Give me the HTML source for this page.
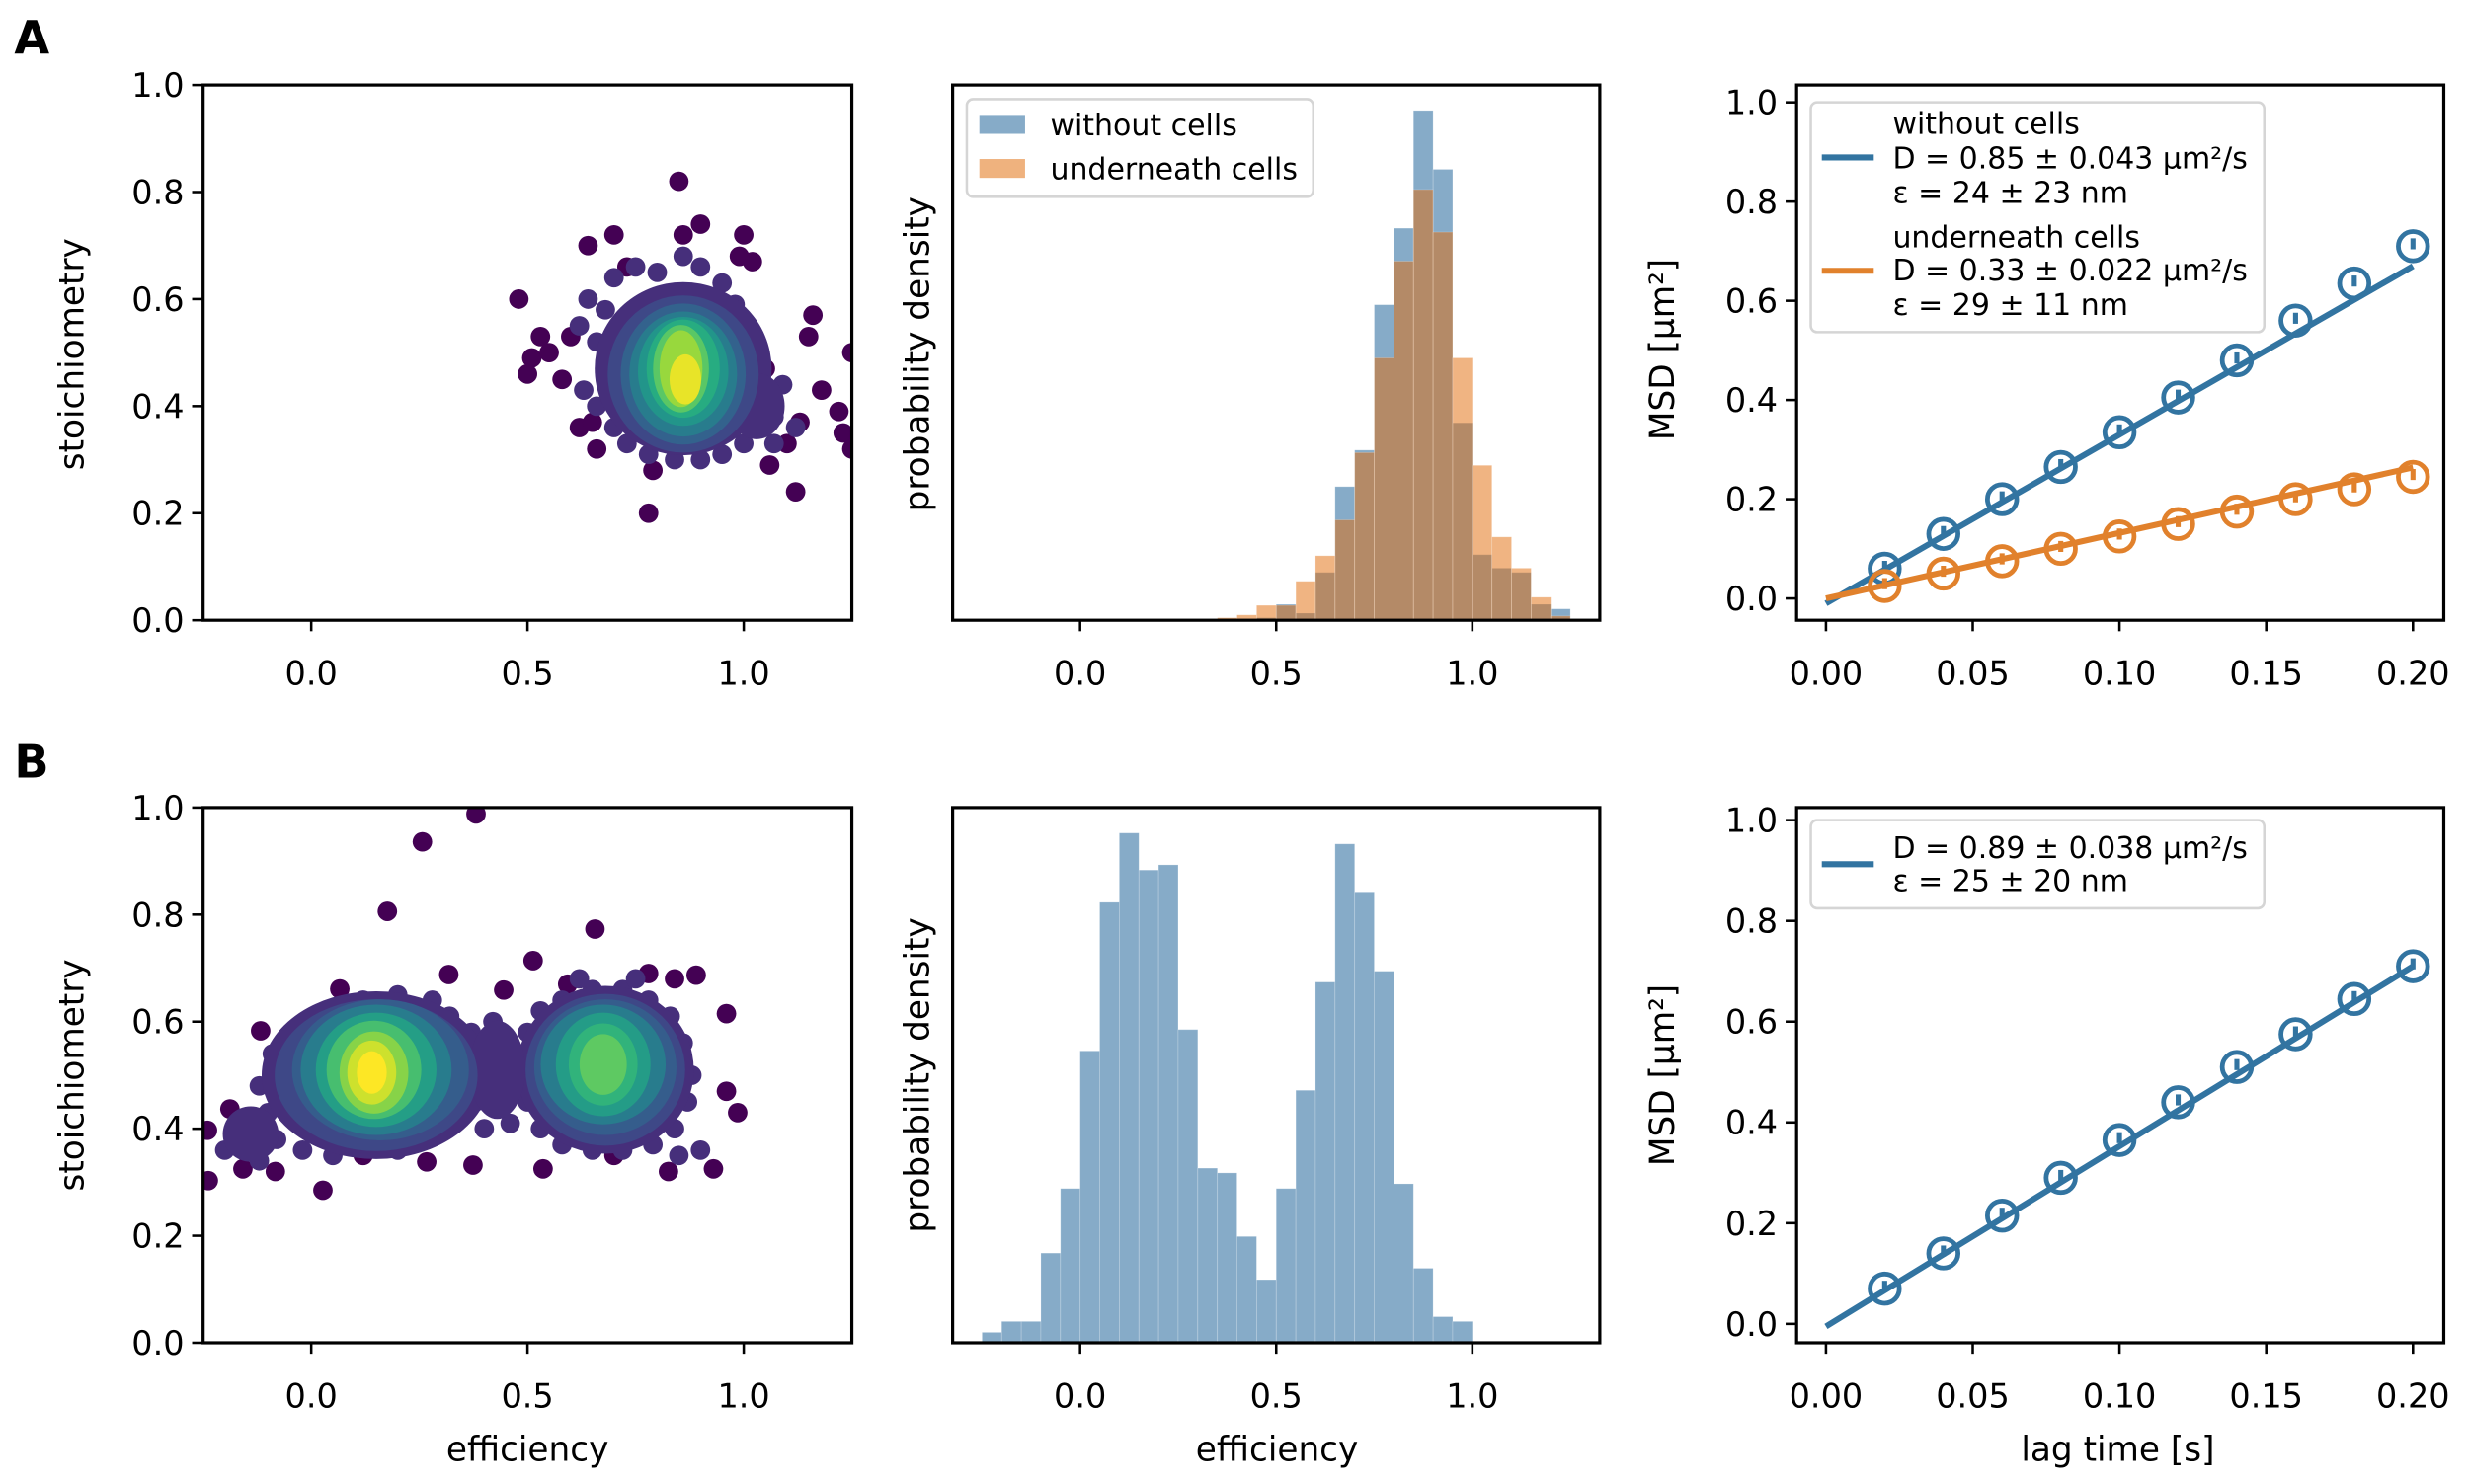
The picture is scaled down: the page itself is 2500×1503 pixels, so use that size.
<!DOCTYPE html>
<html><head><meta charset="utf-8">
<style>
html,body{margin:0;padding:0;background:#fff;}
svg{display:block;}
text{font-family:"DejaVu Sans","Liberation Sans",sans-serif;fill:#000;}
</style></head>
<body>
<svg id="fig" width="2500" height="1503" viewBox="0 0 1568 942.7" preserveAspectRatio="none" xmlns="http://www.w3.org/2000/svg">
<rect x="0" y="0" width="1568" height="942.7" fill="#fff"/>
<text x="9" y="34" font-size="29" font-weight="bold">A</text>
<text x="9" y="494" font-size="29" font-weight="bold">B</text>
</svg>
<script>
// ---------- data ----------
const effTicks = [0.0, 0.5, 1.0];
const stoTicks = [0, 0.2, 0.4, 0.6, 0.8, 1.0];
const stoTickLabels = ["0.0","0.2","0.4","0.6","0.8","1.0"];
const msdYTicks = [0, 0.2, 0.4, 0.6, 0.8, 1.0];
const msdYTickLabels = ["0.0","0.2","0.4","0.6","0.8","1.0"];
const lagTicks = [0, 0.05, 0.10, 0.15, 0.20];
const lagTickLabels = ["0.00","0.05","0.10","0.15","0.20"];

// scatter A outliers [efficiency, stoichiometry]
const scatterAOutliers = [[0.48,0.60],[0.53,0.53],[0.55,0.50],[0.51,0.49],[0.50,0.46],[0.58,0.45],[0.64,0.70],[0.70,0.72],[0.85,0.82],[0.90,0.74],[0.86,0.72],[1.00,0.72],[1.02,0.67],[0.99,0.68],[1.16,0.57],[1.15,0.53],[1.25,0.50],[1.18,0.43],[1.22,0.39],[1.23,0.35],[1.25,0.32],[1.06,0.29],[1.12,0.24],[0.78,0.20],[0.79,0.28],[0.66,0.32],[0.62,0.36],[0.60,0.53],[1.10,0.33],[1.05,0.47],[1.13,0.37],[0.73,0.66],[0.65,0.37]];
// low-density edge points [efficiency, stoichiometry]
const scatterAEdge = [[0.64,0.60],[0.62,0.55],[0.66,0.52],[0.63,0.43],[0.66,0.40],[0.70,0.36],[0.73,0.33],[0.78,0.31],[0.84,0.30],[0.90,0.30],[0.95,0.31],[1.00,0.33],[1.03,0.36],[1.07,0.38],[1.06,0.42],[1.09,0.44],[1.03,0.44],[1.00,0.50],[0.97,0.55],[0.98,0.59],[0.95,0.63],[0.90,0.66],[0.86,0.68],[0.80,0.65],[0.75,0.66],[0.70,0.64],[0.68,0.58],[1.07,0.33],[1.12,0.36],[1.04,0.40],[0.68,0.46]];
// density layers [cx, cy, rx, ry, density]
const scatterALayers = [[0.86,0.47,0.19,0.15,0.14],[1.03,0.40,0.05,0.05,0.14],[0.86,0.46,0.16,0.135,0.22],[0.86,0.46,0.13,0.12,0.32],[0.86,0.46,0.11,0.105,0.42],[0.86,0.465,0.09,0.09,0.52],[0.86,0.47,0.07,0.08,0.62],[0.855,0.47,0.05,0.07,0.74],[0.855,0.47,0.035,0.06,0.85],[0.865,0.45,0.022,0.035,0.97]];
const scatterBOutliers = [[0.381,0.988],[0.257,0.936],[0.176,0.806],[0.656,0.773],[0.513,0.714],[-0.117,0.583],[-0.188,0.437],[-0.238,0.303],[-0.24,0.397],[0.027,0.285],[0.267,0.338],[0.374,0.332],[0.96,0.615],[0.986,0.43],[0.96,0.47],[0.93,0.325],[0.826,0.32],[0.536,0.325],[-0.158,0.325],[-0.083,0.32],[0.89,0.687],[0.318,0.688],[0.066,0.661],[0.445,0.659],[0.593,0.67],[0.78,0.69],[0.84,0.68],[0.12,0.35],[0.70,0.35]];
const scatterBEdge = [[-0.12,0.48],[-0.10,0.43],[-0.14,0.40],[-0.08,0.38],[-0.02,0.36],[0.05,0.35],[0.12,0.37],[0.20,0.36],[0.27,0.38],[0.33,0.42],[0.38,0.45],[0.40,0.52],[0.37,0.58],[0.32,0.61],[0.28,0.64],[0.20,0.65],[0.12,0.64],[0.04,0.62],[-0.03,0.58],[-0.09,0.54],[-0.20,0.36],[-0.17,0.38],[-0.12,0.34],[0.42,0.60],[0.44,0.55],[0.43,0.50],[0.45,0.45],[0.46,0.41],[0.40,0.40],[0.50,0.58],[0.49,0.52],[0.50,0.45],[0.53,0.40],[0.58,0.37],[0.65,0.36],[0.72,0.36],[0.79,0.37],[0.84,0.40],[0.87,0.45],[0.88,0.50],[0.86,0.56],[0.83,0.61],[0.78,0.64],[0.72,0.66],[0.65,0.66],[0.58,0.64],[0.53,0.62],[0.62,0.68],[0.75,0.68],[0.85,0.35],[0.90,0.36]];
const scatterBLayers = [[0.15,0.50,0.25,0.145,0.14],[0.68,0.51,0.19,0.145,0.14],[0.43,0.51,0.05,0.08,0.14],[-0.14,0.39,0.05,0.04,0.14],[0.15,0.50,0.22,0.13,0.22],[0.68,0.51,0.17,0.13,0.22],[0.16,0.51,0.19,0.12,0.3],[0.68,0.515,0.15,0.115,0.3],[0.15,0.51,0.16,0.11,0.42],[0.675,0.52,0.13,0.10,0.42],[0.15,0.51,0.125,0.095,0.56],[0.675,0.52,0.095,0.085,0.55],[0.675,0.52,0.065,0.065,0.65],[0.145,0.51,0.095,0.08,0.7],[0.675,0.52,0.04,0.045,0.75],[0.145,0.505,0.065,0.065,0.82],[0.14,0.505,0.042,0.048,0.93],[0.14,0.505,0.02,0.028,1.0]];

// histograms (bin width 0.05)
const histAStart = 0.30;
const histAWithout = [0,0,2,7,45,20,135,377,480,890,1106,1438,1272,557,185,147,135,45,32];
const histAUnder = [2,7,15,42,42,110,182,283,473,740,1013,1215,1095,740,437,235,147,65,12];
const histBStart = -0.25;
const histBWithout = [22,45,45,189,325,615,928,1074,996,1007,660,368,358,224,133,325,532,760,1051,950,783,335,157,55,45];

// MSD
const lagTimes = [0.02,0.04,0.06,0.08,0.10,0.12,0.14,0.16,0.18,0.20];
const msdAWithout = [0.06,0.13,0.20,0.265,0.335,0.405,0.48,0.56,0.635,0.71];
const msdAUnder = [0.025,0.05,0.075,0.10,0.125,0.15,0.175,0.20,0.22,0.245];
const msdB = [0.07,0.14,0.215,0.29,0.365,0.44,0.51,0.575,0.645,0.71];
const fitAWithout = [-0.01, 0.67];
const fitAUnder = [0.0, 0.264];
const fitB = [-0.005, 0.71];

// ---------- helpers ----------
const svg = document.getElementById('fig');
const NS = 'http://www.w3.org/2000/svg';
function mk(tag, attrs, parent){const e=document.createElementNS(NS,tag);for(const k in attrs)e.setAttribute(k,attrs[k]);(parent||svg).appendChild(e);return e;}
const VIR=[[0,68,1,84],[0.13,71,44,122],[0.25,59,81,139],[0.38,44,113,142],[0.5,33,145,140],[0.63,40,174,128],[0.75,94,201,98],[0.88,170,220,50],[1,253,231,37]];
function viridis(t){for(let i=1;i<VIR.length;i++){if(t<=VIR[i][0]){const a=VIR[i-1],b=VIR[i],f=(t-a[0])/(b[0]-a[0]);return `rgb(${Math.round(a[1]+f*(b[1]-a[1]))},${Math.round(a[2]+f*(b[2]-a[2]))},${Math.round(a[3]+f*(b[3]-a[3]))})`;}}return 'rgb(253,231,37)';}

function makeAxes(name,L,R,T,B,xmin,xmax,ymin,ymax){
  const g=mk('g',{});
  
  
  const clipId='clip-'+name;
  const cp=mk('clipPath',{id:clipId},g);mk('rect',{x:L,y:T,width:R-L,height:B-T},cp);
  const plot=mk('g',{'clip-path':`url(#${clipId})`},g);
  
  
  return {g,plot,L,R,T,B,
    sx:v=>L+(v-xmin)/(xmax-xmin)*(R-L),
    sy:v=>B-(v-ymin)/(ymax-ymin)*(B-T)};
}
function frame(ax){
  const f=mk('rect',{x:ax.L,y:ax.T,width:ax.R-ax.L,height:ax.B-ax.T,fill:'none',stroke:'#000','stroke-width':2},ax.g);
  
  
}
function xTicks(ax,ticks,labels,name){
  ticks.forEach((t,i)=>{const x=ax.sx(t);
    const l=mk('line',{x1:x,x2:x,y1:ax.B,y2:ax.B+7,stroke:'#000','stroke-width':1.6},ax.g);
    
    
    const tx=mk('text',{x:x,y:ax.B+41,'font-size':21,'text-anchor':'middle'},ax.g);tx.textContent=labels[i];
    
    });
}
function yTicks(ax,ticks,labels,name){
  ticks.forEach((t,i)=>{const y=ax.sy(t);
    const l=mk('line',{x1:ax.L-7,x2:ax.L,y1:y,y2:y,stroke:'#000','stroke-width':1.6},ax.g);
    
    
    const tx=mk('text',{x:ax.L-12,y:y+7.5,'font-size':21,'text-anchor':'end'},ax.g);tx.textContent=labels[i];
    
    });
}
function yLabel(x,y,txt,name){
  const t=mk('text',{x:0,y:0,'font-size':21.5,'text-anchor':'middle',transform:`translate(${x},${y}) rotate(-90)`});t.textContent=txt;
  
  
}
function xLabel(x,y,txt,name){
  const t=mk('text',{x:x,y:y,'font-size':21.5,'text-anchor':'middle'});t.textContent=txt;
  
  
}

function scatter(ax,outliers,edge,layers,name){
  outliers.forEach(p=>{const c=mk('circle',{cx:ax.sx(p[0]),cy:ax.sy(p[1]),r:6.2,fill:viridis(0)},ax.plot);
    
    });
  edge.forEach(p=>{const c=mk('circle',{cx:ax.sx(p[0]),cy:ax.sy(p[1]),r:6.2,fill:viridis(0.14)},ax.plot);
    
    });
  layers.forEach(l=>{const rx=Math.abs(ax.sx(l[0]+l[2])-ax.sx(l[0]));const ry=Math.abs(ax.sy(l[1]+l[3])-ax.sy(l[1]));
    const e=mk('ellipse',{cx:ax.sx(l[0]),cy:ax.sy(l[1]),rx:rx+4,ry:ry+4,fill:viridis(l[4])},ax.plot);
    
    });
}
function hist(ax,start,vals,fill,name){
  vals.forEach((v,i)=>{if(v<=0)return;const x0=ax.sx(start+i*0.05),x1=ax.sx(start+(i+1)*0.05);
    const r=mk('rect',{x:x0,y:ax.sy(v),width:x1-x0,height:ax.sy(0)-ax.sy(v),fill:fill,stroke:'rgba(255,255,255,0.25)','stroke-width':0.5},ax.plot);
    
    });
}
function msd(ax,xs,ys,fit,color,name){
  const l=mk('line',{x1:ax.sx(0),y1:ax.sy(fit[0]),x2:ax.sx(0.2),y2:ax.sy(fit[1]),stroke:color,'stroke-width':3.8},ax.plot);
  
  
  xs.forEach((x,i)=>{
    const eb=mk('line',{x1:ax.sx(x),x2:ax.sx(x),y1:ax.sy(ys[i])-5,y2:ax.sy(ys[i])+2,stroke:color,'stroke-width':3.2},ax.plot);
    
    
    const c=mk('circle',{cx:ax.sx(x),cy:ax.sy(ys[i]),r:9.3,fill:'none',stroke:color,'stroke-width':3},ax.plot);
    
    });
}
function legendBox(x,y,w,h,name){
  const r=mk('rect',{x:x,y:y,width:w,height:h,rx:4,fill:'rgba(255,255,255,0.8)',stroke:'#d5d5d5','stroke-width':1.6});
  
  
}
function legText(x,y,txt,name){
  const t=mk('text',{x:x,y:y,'font-size':18.8});t.textContent=txt;
  
  
}

const BLUE='#3274a1', ORANGE='#e1812c';

// ---------- Row A ----------
const a1=makeAxes('scatter-a',129,541,54,394,-0.25,1.25,0,1);
scatter(a1,scatterAOutliers,scatterAEdge,scatterALayers,'scatter-a');
frame(a1);xTicks(a1,effTicks,["0.0","0.5","1.0"],'x');yTicks(a1,stoTicks,stoTickLabels,'y');
yLabel(53,225,'stoichiometry','y-axis-title-stoichiometry-a');

const a2=makeAxes('histogram-a',605,1016,54,394,-0.325,1.325,0,Math.max(...histAWithout)*1.05);
hist(a2,histAStart,histAWithout,'#86abc8','hist-a-without-cells');
hist(a2,histAStart,histAUnder,'rgba(225,105,5,0.5)','hist-a-underneath-cells');
frame(a2);xTicks(a2,effTicks,["0.0","0.5","1.0"],'x');
yLabel(590,225,'probability density','y-axis-title-density-a');
legendBox(614,63,220,62,'legend-hist-a');
{let p=mk('rect',{x:622,y:73,width:29,height:12,fill:'#86abc8'});
 p=mk('rect',{x:622,y:101,width:29,height:12,fill:'#efb27e'});}
legText(667,86,'without cells','legend-entry-without-cells');
legText(667,114,'underneath cells','legend-entry-underneath-cells');

const a3=makeAxes('msd-a',1141,1552,54,394,-0.01,0.2105,-0.044,1.035);
msd(a3,lagTimes,msdAWithout,fitAWithout,BLUE,'msd-a-without-cells');
msd(a3,lagTimes,msdAUnder,fitAUnder,ORANGE,'msd-a-underneath-cells');
frame(a3);xTicks(a3,lagTicks,lagTickLabels,'x');yTicks(a3,msdYTicks,msdYTickLabels,'y');
yLabel(1063,222,'MSD [µm²]','y-axis-title-msd-a');
legendBox(1150,65,288,146,'legend-msd-a');
{let p=mk('line',{x1:1157,x2:1190,y1:100,y2:100,stroke:BLUE,'stroke-width':3.8});
 p=mk('line',{x1:1157,x2:1190,y1:172,y2:172,stroke:ORANGE,'stroke-width':3.8});}
legText(1202,85,'without cells','legend-entry-without-cells-title');
legText(1202,107,'D = 0.85 ± 0.043 µm²/s','legend-entry-without-cells-d');
legText(1202,129,'ε = 24 ± 23 nm','legend-entry-without-cells-eps');
legText(1202,157,'underneath cells','legend-entry-underneath-cells-title');
legText(1202,178,'D = 0.33 ± 0.022 µm²/s','legend-entry-underneath-cells-d');
legText(1202,200,'ε = 29 ± 11 nm','legend-entry-underneath-cells-eps');

// ---------- Row B ----------
const b1=makeAxes('scatter-b',129,541,513,853,-0.25,1.25,0,1);
scatter(b1,scatterBOutliers,scatterBEdge,scatterBLayers,'scatter-b');
frame(b1);xTicks(b1,effTicks,["0.0","0.5","1.0"],'x');yTicks(b1,stoTicks,stoTickLabels,'y');
yLabel(53,683,'stoichiometry','y-axis-title-stoichiometry-b');
xLabel(335,928,'efficiency','x-axis-title-efficiency-b1');

const b2=makeAxes('histogram-b',605,1016,513,853,-0.325,1.325,0,Math.max(...histBWithout)*1.05);
hist(b2,histBStart,histBWithout,'#86abc8','hist-b');
frame(b2);xTicks(b2,effTicks,["0.0","0.5","1.0"],'x');
yLabel(590,683,'probability density','y-axis-title-density-b');
xLabel(811,928,'efficiency','x-axis-title-efficiency-b2');

const b3=makeAxes('msd-b',1141,1552,513,853,-0.01,0.2105,-0.0375,1.025);
msd(b3,lagTimes,msdB,fitB,BLUE,'msd-b');
frame(b3);xTicks(b3,lagTicks,lagTickLabels,'x');yTicks(b3,msdYTicks,msdYTickLabels,'y');
yLabel(1063,683,'MSD [µm²]','y-axis-title-msd-b');
xLabel(1345,928,'lag time [s]','x-axis-title-lag-time');
legendBox(1150,521,288,56,'legend-msd-b');
{let p=mk('line',{x1:1157,x2:1190,y1:549,y2:549,stroke:BLUE,'stroke-width':3.8});}
legText(1202,545,'D = 0.89 ± 0.038 µm²/s','legend-entry-msd-b-d');
legText(1202,566,'ε = 25 ± 20 nm','legend-entry-msd-b-eps');
</script>
</body></html>
